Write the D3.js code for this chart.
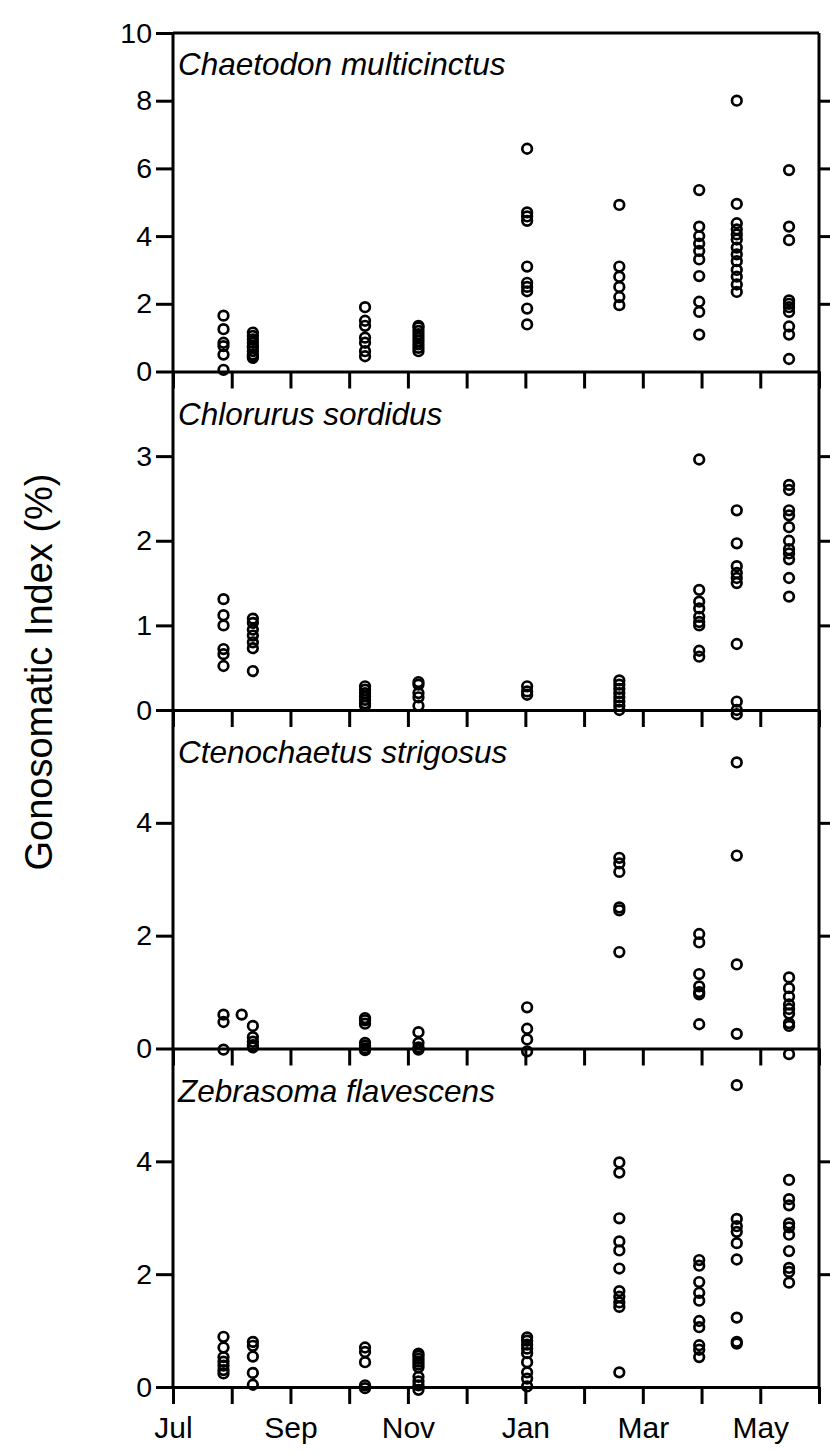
<!DOCTYPE html>
<html><head><meta charset="utf-8">
<script src="https://cdn.jsdelivr.net/npm/d3@7"></script>
<style>body{margin:0;background:#fff} svg{display:block}</style>
</head><body><svg id="c" width="830" height="1454"></svg>
<script>
// Months (x axis, month index 0 = Jul)
const monthLabels = ["Jul","Aug","Sep","Oct","Nov","Dec","Jan","Feb","Mar","Apr","May","Jun"];
// Sampling dates as month offsets from Jul 1
const sampleMonth = [0.86, 1.17, 1.36, 3.27, 4.18, 6.03, 7.6, 8.96, 9.6, 10.49];

const speciesNames = ["Chaetodon multicinctus","Chlorurus sordidus","Ctenochaetus strigosus","Zebrasoma flavescens"];
const yMax = [10, 4, 6, 6];
const yTickLabels = [[0,2,4,6,8,10],[0,1,2,3],[0,2,4],[0,2,4]];
const yRightTicks = [[2,4,6,8],[1,2,3],[2,4],[2,4]];

// Gonosomatic index (%) per sample, aligned with sampleMonth
const chaetodon = [
  [1.65,1.25,0.85,0.75,0.5,0.05],
  [],
  [1.15,1.05,0.95,0.85,0.75,0.7,0.6,0.5,0.45,0.4],
  [1.9,1.5,1.35,1.0,0.85,0.6,0.45],
  [1.35,1.3,1.2,1.1,1.0,0.9,0.8,0.7,0.6],
  [6.58,4.7,4.58,4.45,3.1,2.62,2.5,2.37,1.86,1.39],
  [4.92,3.1,2.8,2.5,2.2,1.96],
  [5.36,4.28,4.0,3.78,3.56,3.31,2.82,2.06,1.76,1.09],
  [8.0,4.95,4.38,4.2,4.05,3.9,3.66,3.46,3.26,3.0,2.8,2.57,2.35],
  [5.95,4.28,3.88,2.1,2.0,1.9,1.76,1.33,1.09,0.37]
];
const chlorurus = [
  [1.31,1.12,1.0,0.72,0.66,0.52],
  [],
  [1.08,1.03,0.95,0.88,0.8,0.73,0.46],
  [0.28,0.24,0.2,0.16,0.12,0.08,0.05],
  [0.33,0.3,0.2,0.15,0.05],
  [0.28,0.22,0.18],
  [0.35,0.3,0.25,0.2,0.15,0.1,0.05,0.0],
  [2.96,1.42,1.28,1.2,1.1,1.04,1.0,0.7,0.63],
  [2.36,1.97,1.7,1.62,1.56,1.5,0.78,0.1,0.0,-0.05],
  [2.66,2.6,2.36,2.3,2.16,2.0,1.9,1.85,1.78,1.56,1.34]
];
const ctenochaetus = [
  [0.6,0.47,-0.02],
  [0.6],
  [0.4,0.2,0.12,0.06,0.02],
  [0.54,0.5,0.44,0.1,0.05,0.0,-0.03],
  [0.29,0.1,0.02,-0.02],
  [0.73,0.35,0.16,-0.05],
  [3.38,3.28,3.13,2.5,2.45,1.71],
  [2.03,1.88,1.32,1.1,1.0,0.96,0.43],
  [5.07,3.42,1.49,0.26],
  [1.26,1.07,0.92,0.78,0.7,0.62,0.45,0.4,-0.1]
];
const zebrasoma = [
  [0.89,0.7,0.53,0.45,0.38,0.3,0.24],
  [],
  [0.8,0.73,0.54,0.25,0.04],
  [0.7,0.62,0.44,0.03,-0.02],
  [0.59,0.55,0.5,0.45,0.4,0.35,0.18,0.1,0.03,-0.05],
  [0.88,0.82,0.75,0.68,0.6,0.44,0.26,0.15,0.01],
  [3.98,3.8,2.99,2.58,2.42,2.1,1.7,1.6,1.5,1.42,0.26],
  [2.25,2.15,1.86,1.67,1.53,1.17,1.06,0.74,0.66,0.53],
  [5.35,2.98,2.85,2.75,2.55,2.26,1.23,0.8,0.77],
  [3.67,3.33,3.22,2.9,2.83,2.7,2.41,2.11,2.04,1.85]
];
const speciesData = [chaetodon, chlorurus, ctenochaetus, zebrasoma];

// ---- layout ----
const L = 173, R = 819, TOP = 33, BOTTOM = 1387;
const panelH = (BOTTOM - TOP) / 4;
const FONT = "'Liberation Sans', Arial, Helvetica, sans-serif";
const svg = d3.select("#c").style("font-family", FONT);

const x = d3.scaleLinear().domain([0, 11]).range([L, R]);

const lw = 3;

speciesNames.forEach((name, i) => {
  const top = TOP + i * panelH, bot = top + panelH;
  const y = d3.scaleLinear().domain([0, yMax[i]]).range([bot, top]);
  const g = svg.append("g");

  // left axis
  const la = g.append("g").attr("transform", `translate(${L},0)`)
    .call(d3.axisLeft(y).tickValues(yTickLabels[i]).tickSize(17).tickPadding(4).tickFormat(d3.format("d")));
  la.select(".domain").remove();
  la.selectAll("line").attr("stroke", "#000").attr("stroke-width", lw);
  la.selectAll("text").attr("font-size", 28.5).attr("font-family", FONT).attr("fill", "#000");

  // right axis ticks
  const ra = g.append("g").attr("transform", `translate(${R},0)`)
    .call(d3.axisRight(y).tickValues(yRightTicks[i]).tickSize(14).tickFormat(""));
  ra.select(".domain").remove();
  ra.selectAll("line").attr("stroke", "#000").attr("stroke-width", lw);

  // bottom (zero line) axis with month ticks
  const last = i === speciesNames.length - 1;
  const ba = g.append("g").attr("transform", `translate(0,${y(0)})`)
    .call(d3.axisBottom(x).tickValues(d3.range(0, 12)).tickSize(17).tickSizeOuter(0).tickPadding(13)
      .tickFormat(d => (last && d % 2 === 0) ? monthLabels[d] : ""));
  ba.select(".domain").attr("stroke", "#000").attr("stroke-width", lw);
  ba.selectAll("line").attr("stroke", "#000").attr("stroke-width", lw);
  ba.selectAll("text").attr("font-size", 30).attr("font-family", FONT).attr("fill", "#000");

  // species title
  g.append("text").attr("x", L + 5).attr("y", top + (i === 0 ? 42 : 53))
    .attr("font-size", 31.5).attr("font-style", "italic").attr("fill", "#000").text(name);

  // points
  const pts = [];
  speciesData[i].forEach((vals, k) => vals.forEach(v => pts.push({m: sampleMonth[k], v})));
  g.selectAll("circle").data(pts).join("circle")
    .attr("cx", d => x(d.m)).attr("cy", d => y(d.v)).attr("r", 4.8)
    .attr("fill", "none").attr("stroke", "#000").attr("stroke-width", 2.7);
});

// frame
svg.append("line").attr("x1", L).attr("x2", L).attr("y1", TOP).attr("y2", BOTTOM).attr("stroke", "#000").attr("stroke-width", lw);
svg.append("line").attr("x1", R).attr("x2", R).attr("y1", TOP).attr("y2", BOTTOM).attr("stroke", "#000").attr("stroke-width", lw);
svg.append("line").attr("x1", L).attr("x2", R).attr("y1", TOP).attr("y2", TOP).attr("stroke", "#000").attr("stroke-width", lw);

// y axis title
svg.append("text").attr("transform", `translate(52,672) rotate(-90)`)
  .attr("text-anchor", "middle").attr("font-size", 38).attr("fill", "#000")
  .text("Gonosomatic Index (%)");
</script></body></html>
